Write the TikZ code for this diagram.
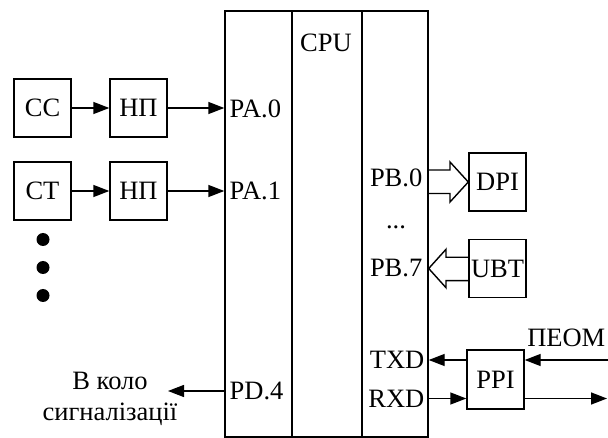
\documentclass[tikz,border=0pt]{standalone}
\usepackage{fontspec}
\setmainfont{Liberation Serif}
\usetikzlibrary{arrows.meta}
\begin{document}
\begin{tikzpicture}[x=1pt,y=-1pt,line width=1.4pt,
  txt/.style={inner sep=0pt,font=\fontsize{26.5}{28}\selectfont},
  box/.style={txt,draw,minimum width=57pt,minimum height=58pt},
  col/.style={draw,inner sep=0pt,minimum height=426pt},
  arr/.style={-{Triangle[length=16pt,width=12pt]}}]
\useasboundingbox (0,0) rectangle (608,438);
% CPU columns
\node[col,minimum width=67pt] (colA) at (258.5,224) {};
\node[col,minimum width=70pt] (colB) at (327,224) {};
\node[col,minimum width=66pt] (colC) at (395,224) {};
\node[txt] (cpu) at (326,43) {CPU};
% port labels
\node[txt,anchor=west] (pa0) at (229,108.5) {PA.0};
\node[txt,anchor=west] (pa1) at (229,191) {PA.1};
\node[txt,anchor=west] (pd4) at (229,391) {PD.4};
\node[txt,anchor=east] (pb0) at (423,178) {PB.0};
\node[txt,anchor=base] (pbd) at (396,229) {...};
\node[txt,anchor=east] (pb7) at (423,268.5) {PB.7};
\node[txt,anchor=east] (txd) at (425,360) {TXD};
\node[txt,anchor=east] (rxd) at (425,398.5) {RXD};
% left boxes
\node[box] (cc) at (42.5,108) {CC};
\node[box] (np1) at (138.5,108) {НП};
\node[box] (ct) at (42.5,191) {CT};
\node[box] (np2) at (138.5,191) {НП};
\draw[arr] (cc) -- (np1);
\draw[arr] (np1) -- (np1 -| colA.west);
\draw[arr] (ct) -- (np2);
\draw[arr] (np2) -- (np2 -| colA.west);
% dots
\fill (43,239.5) circle (6.5pt);
\fill (43,267.5) circle (6.5pt);
\fill (43,295.5) circle (6.5pt);
% signalling
\coordinate (sig) at (168,391);
\draw[arr] (colA.west |- pd4) -- (sig);
\node[txt,anchor=base] (sig1) at (110,389) {В коло};
\node[txt,anchor=base] (sig2) at (110,420) {сигналізації};
% right boxes
\node[box] (dpi) at (497.5,182) {DPI};
\node[box] (ubt) at (497.5,268.5) {UBT};
\node[box,minimum height=59pt] (ppi) at (495.5,379.5) {PPI};
% hollow arrows
\draw (colC.east |- 0,170) -- (450,170) -- (450,162) -- (dpi.west)
      -- (450,202) -- (450,193.5) -- (colC.east |- 0,193.5);
\draw (ubt.west |- 0,257.3) -- (446,257.3) -- (446,249.3) -- (colC.east |- ubt)
      -- (446,287.7) -- (446,280.7) -- (ubt.west |- 0,280.7);
% serial
\draw[arr] (ppi.west |- txd) -- (colC.east |- txd);
\draw[arr] (colC.east |- rxd) -- (ppi.west |- rxd);
\coordinate (pin) at (608,360);
\coordinate (pout) at (607,398.5);
\draw[arr] (pin) -- (ppi.east |- pin);
\draw[arr] (ppi.east |- pout) -- (pout);
\node[txt,anchor=base east] (peom) at (606,347) {ПЕОМ};
\end{tikzpicture}
\end{document}
